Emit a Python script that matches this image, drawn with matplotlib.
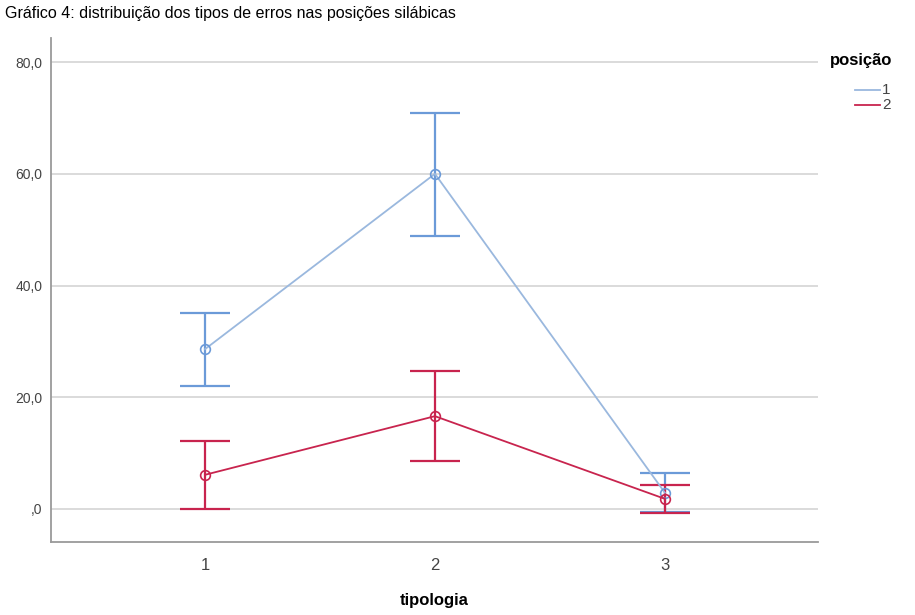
import matplotlib.pyplot as plt
from matplotlib.lines import Line2D

plt.rcParams['font.family'] = ['Liberation Sans', 'DejaVu Sans']

# dados
tipologia = [1, 2, 3]
posicoes = ['1', '2']
pos1_media = [28.6, 60.0, 2.9]
pos1_sup = [35.1, 70.9, 6.4]
pos1_inf = [22.0, 48.8, -0.6]
pos2_media = [6.1, 16.6, 1.8]
pos2_sup = [12.2, 24.7, 4.3]
pos2_inf = [0.0, 8.6, -0.7]

azul_linha = '#9ab8de'
azul_barra = '#6b9ad8'
vermelho = '#c8244e'

W, H = 915, 615
fig = plt.figure(figsize=(W / 100, H / 100), dpi=100)
ax = fig.add_axes([0.0557, 0.119, 0.838, 0.819])

def serie(media, inf, sup, cor_linha, cor_barra):
    err = [[m - l for m, l in zip(media, inf)], [s - m for m, s in zip(media, sup)]]
    ax.errorbar(tipologia, media, yerr=err, fmt='none', ecolor=cor_barra,
                elinewidth=1.6, capsize=18, capthick=1.6, zorder=3)
    ax.plot(tipologia, media, color=cor_linha, lw=1.3, marker='o', ms=7,
            mfc='none', mec=cor_barra, mew=1.2, zorder=4)

serie(pos1_media, pos1_inf, pos1_sup, azul_linha, azul_barra)
serie(pos2_media, pos2_inf, pos2_sup, vermelho, vermelho)

ax.set_xlim(0.33, 3.665)
ax.set_ylim(-5.9, 84.3)
ax.set_yticks([0, 20, 40, 60, 80])
ax.set_yticklabels([',0', '20,0', '40,0', '60,0', '80,0'])
ax.set_xticks(tipologia)
ax.set_xticklabels([str(t) for t in tipologia])
ax.grid(axis='y', color='#d4d4d4', lw=1.2)
ax.set_axisbelow(True)
ax.tick_params(length=0, labelsize=10, colors='#444444', pad=6)
ax.tick_params(axis='x', labelsize=12, pad=12)
for s in ['top', 'right']:
    ax.spines[s].set_visible(False)
for s in ['left', 'bottom']:
    ax.spines[s].set_color('#9a9a9a')
    ax.spines[s].set_linewidth(1.3)

ax.set_xlabel('tipologia', fontsize=12, fontweight='bold', labelpad=14)

fig.text(0.005, 0.978, 'Gráfico 4: distribuição dos tipos de erros nas posições silábicas',
         fontsize=11.5, va='center', ha='left')

# legenda desenhada à mão, como no SPSS
fig.text(830 / W, 1 - 60 / H, 'posição', fontsize=12, fontweight='bold',
         va='center', ha='left')
for i, (lab, cor) in enumerate(zip(posicoes, [azul_linha, vermelho])):
    y = 1 - (90 + 15 * i) / H
    fig.add_artist(Line2D([855 / W, 880 / W], [y, y], color=cor, lw=1.3,
                          transform=fig.transFigure))
    fig.text(882 / W, y, lab, fontsize=11, color='#444444', va='center', ha='left')

fig.savefig('out.png', dpi=100)
